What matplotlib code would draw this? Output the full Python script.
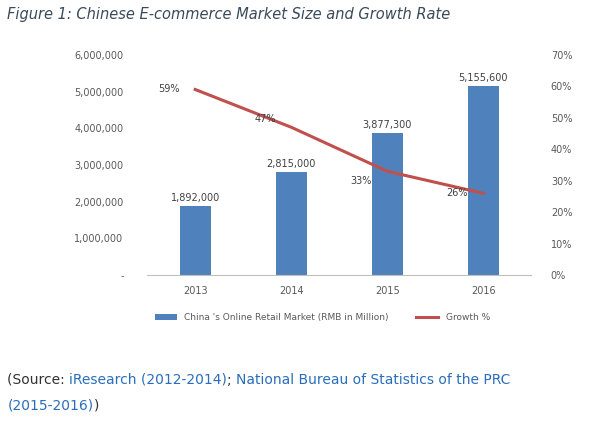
import matplotlib
matplotlib.use("Agg")
import matplotlib.pyplot as plt
from matplotlib.ticker import FuncFormatter

years = ["2013", "2014", "2015", "2016"]
market = [1892000, 2815000, 3877300, 5155600]
growth = [59, 47, 33, 26]
growth_labels = ["59%", "47%", "33%", "26%"]

bar_c = "#4F81BD"
line_c = "#C0504D"
txt = "#595959"

fig = plt.figure(figsize=(6.08, 4.22), dpi=100)
ax = fig.add_axes([0.242, 0.348, 0.632, 0.522])
x = list(range(len(years)))
ax.bar(x, market, width=0.32, color=bar_c, label="China 's Online Retail Market (RMB in Million)", zorder=2)
for xi, v in zip(x, market):
    ax.text(xi, v + 80000, f"{v:,}", ha="center", va="bottom", fontsize=7, color="#404040")
ax.set_ylim(0, 6000000)
ax.set_xlim(-0.5, 3.5)
ax.set_yticks(range(0, 6000001, 1000000))
ax.yaxis.set_major_formatter(FuncFormatter(lambda v, p: "-" if v == 0 else f"{int(v):,}"))
ax.set_xticks(x)
ax.set_xticklabels(years)
for s in ["top", "right", "left"]:
    ax.spines[s].set_visible(False)
ax.spines["bottom"].set_color("#bfbfbf")
ax.tick_params(axis="both", length=0, labelsize=7, colors=txt, pad=8)
ax.tick_params(axis="y", pad=17)

ax2 = ax.twinx()
ax2.plot(x, growth, color=line_c, lw=2.2, label="Growth %", zorder=3)
ax2.set_ylim(0, 70)
ax2.set_yticks(range(0, 71, 10))
ax2.yaxis.set_major_formatter(FuncFormatter(lambda v, p: f"{int(v)}%"))
for s in ["top", "right", "left", "bottom"]:
    ax2.spines[s].set_visible(False)
ax2.tick_params(axis="y", length=0, labelsize=7, colors=txt, pad=14)
offs = [(-0.27, 0), (-0.27, 2.5), (-0.27, -3), (-0.27, 0)]
for xi, g, lab, (dx, dy) in zip(x, growth, growth_labels, offs):
    ax2.text(xi + dx, g + dy, lab, ha="center", va="center", fontsize=7, color="#404040")

h1, l1 = ax.get_legend_handles_labels()
h2, l2 = ax2.get_legend_handles_labels()
fig.legend(h1 + h2, l1 + l2, loc="center", bbox_to_anchor=(0.53, 0.247), ncol=2,
           frameon=False, fontsize=6.5, handlelength=2.5, columnspacing=3, labelcolor=txt)

fig.text(0.012, 0.965, "Figure 1: Chinese E-commerce Market Size and Growth Rate",
         fontstyle="italic", fontsize=10.5, color="#3a4a5a", va="center")
blue = "#2a6ebb"
dark = "#333333"
fs = 10

def seq(y, parts):
    xx = 0.012
    renderer = fig.canvas.get_renderer()
    for s, c in parts:
        tx = fig.text(xx, y, s, fontsize=fs, color=c, va="center")
        bb = tx.get_window_extent(renderer=renderer)
        xx += bb.width / fig.bbox.width

seq(0.10, [("(Source: ", dark), ("iResearch (2012-2014)", blue), ("; ", dark),
           ("National Bureau of Statistics of the PRC", blue)])
seq(0.04, [("(2015-2016)", blue), (")", dark)])
fig.savefig("out.png", dpi=100)
